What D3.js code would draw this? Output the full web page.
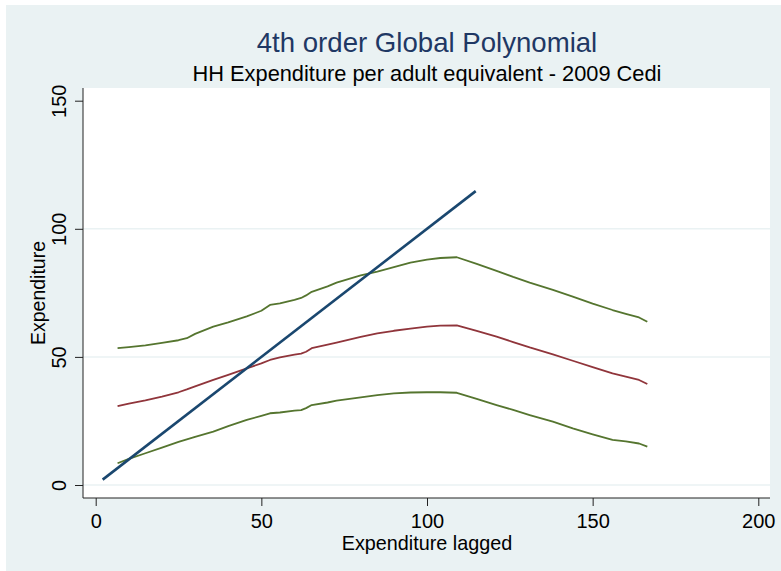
<!DOCTYPE html>
<html>
<head>
<meta charset="utf-8">
<script src="https://cdn.jsdelivr.net/npm/d3@7"></script>
<style>
html,body{margin:0;padding:0;background:#fff;}
svg{display:block;font-family:"Liberation Sans",Arial,Helvetica,sans-serif;}
</style>
</head>
<body>
<svg id="chart" width="781" height="571"></svg>
<script>
// ---- data ----
const titleText = "4th order Global Polynomial";
const subtitleText = "HH Expenditure per adult equivalent - 2009 Cedi";
const xLabel = "Expenditure lagged";
const yLabel = "Expenditure";
const xTicks = [0, 50, 100, 150, 200];
const yTicks = [0, 50, 100, 150];
const gridTicks = [0, 50, 100];

const xs = [6.6, 10, 15, 20, 25, 27.5, 30, 35.5, 40, 45.6, 50, 52.6, 55.6, 60, 62, 63.5, 65.2, 70, 72.7, 80, 85, 90, 95, 100, 104, 109, 115, 121, 126, 131, 138, 144, 150, 156, 160, 164, 166.5];
const upperCI = [53.4, 53.8, 54.5, 55.5, 56.5, 57.3, 59, 61.8, 63.5, 65.8, 68, 70.3, 70.9, 72.3, 73, 74, 75.4, 77.5, 79, 81.8, 83.3, 85, 86.8, 88, 88.6, 88.9, 86.3, 83.6, 81.2, 79, 76.2, 73.5, 70.8, 68.3, 66.8, 65.4, 63.7];
const fitted  = [30.8, 31.8, 33, 34.5, 36.2, 37.3, 38.5, 41, 43, 45.5, 47.5, 48.8, 49.8, 50.9, 51.3, 52, 53.4, 54.8, 55.6, 57.8, 59.2, 60.2, 61, 61.8, 62.2, 62.3, 60.2, 57.9, 55.8, 53.7, 51, 48.5, 46, 43.6, 42.3, 41, 39.4];
const lowerCI = [8.5, 10.2, 12.4, 14.6, 16.8, 17.8, 18.8, 20.8, 23, 25.4, 27, 28, 28.3, 29, 29.2, 30, 31.2, 32.2, 32.9, 34.2, 35.1, 35.8, 36.1, 36.2, 36.2, 36, 33.6, 31.2, 29.3, 27.3, 24.7, 22.1, 19.8, 17.6, 17, 16.2, 15];
const diagX = [2.1, 114.7];
const diagY = [2.1, 114.7];

// ---- layout ----
const W = 781, H = 571;
const plot = {left: 83, right: 770, top: 88, bottom: 498};
const svg = d3.select("#chart");

svg.append("rect").attr("x", 6).attr("y", 5).attr("width", W - 6).attr("height", H - 5).attr("fill", "#eaf2f3");
svg.append("rect").attr("x", plot.left).attr("y", plot.top)
  .attr("width", plot.right - plot.left).attr("height", plot.bottom - plot.top).attr("fill", "#ffffff");

const x = d3.scaleLinear().domain([0, 200]).range([95.7, 758.3]);
const y = d3.scaleLinear().domain([0, 150]).range([485, 100.7]);

// gridlines
svg.append("g").selectAll("line").data(gridTicks).join("line")
  .attr("x1", plot.left).attr("x2", plot.right)
  .attr("y1", d => y(d)).attr("y2", d => y(d))
  .attr("stroke", "#eaf2f3").attr("stroke-width", 1.5);

// axes
const axisColor = "#222";
const yAxis = d3.axisLeft(y).tickValues(yTicks).tickSize(8).tickFormat(d3.format("d"));
const gy = svg.append("g").attr("transform", `translate(${plot.left},0)`).call(yAxis);
gy.select(".domain").attr("d", `M0,${plot.top}V${plot.bottom}`).attr("stroke", axisColor);
gy.selectAll(".tick line").attr("stroke", axisColor);
gy.selectAll(".tick text").attr("x", null).attr("dy", null)
  .attr("transform", "translate(-17,0) rotate(-90)")
  .attr("text-anchor", "middle").attr("fill", "#000")
  .style("font-size", "20px").style("font-family", "Liberation Sans, Arial, sans-serif");

const xAxis = d3.axisBottom(x).tickValues(xTicks).tickSize(8).tickFormat(d3.format("d"));
const gx = svg.append("g").attr("transform", `translate(0,${plot.bottom})`).call(xAxis);
gx.select(".domain").attr("d", `M${plot.left},0H${plot.right}`).attr("stroke", axisColor);
gx.selectAll(".tick line").attr("stroke", axisColor);
gx.selectAll(".tick text").attr("y", 30).attr("dy", null).attr("fill", "#000")
  .style("font-size", "20px").style("font-family", "Liberation Sans, Arial, sans-serif");

// lines
const line = d3.line().x(d => x(d[0])).y(d => y(d[1]));
const series = [
  {vals: upperCI, color: "#55752f", w: 1.8},
  {vals: lowerCI, color: "#55752f", w: 1.8},
  {vals: fitted, color: "#90353b", w: 1.8}
];
series.forEach(s => {
  svg.append("path").datum(xs.map((v, i) => [v, s.vals[i]]))
    .attr("d", line).attr("fill", "none").attr("stroke", s.color)
    .attr("stroke-width", s.w).attr("stroke-linejoin", "round");
});
svg.append("path").datum(diagX.map((v, i) => [v, diagY[i]]))
  .attr("d", line).attr("fill", "none").attr("stroke", "#1a476f").attr("stroke-width", 2.6);

// titles
svg.append("text").attr("x", 427).attr("y", 52).attr("text-anchor", "middle")
  .attr("fill", "#1f3864").style("font-size", "27.6px").text(titleText);
svg.append("text").attr("x", 427).attr("y", 81).attr("text-anchor", "middle")
  .attr("fill", "#000").style("font-size", "21.8px").text(subtitleText);
svg.append("text").attr("x", 427).attr("y", 550).attr("text-anchor", "middle")
  .attr("fill", "#000").style("font-size", "19.8px").text(xLabel);
svg.append("text").attr("transform", "translate(45,293) rotate(-90)").attr("text-anchor", "middle")
  .attr("fill", "#000").style("font-size", "19.5px").text(yLabel);
</script>
</body>
</html>
